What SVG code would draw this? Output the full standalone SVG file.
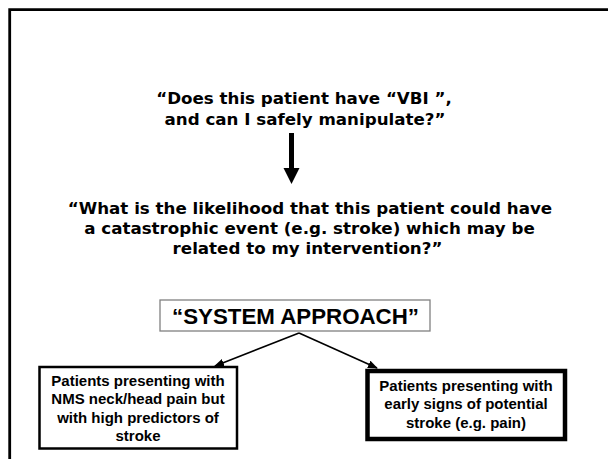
<svg xmlns="http://www.w3.org/2000/svg" width="608" height="459" viewBox="0 0 608 459">
<style>
.q{font-family:"DejaVu Sans",Verdana,sans-serif;font-weight:bold;font-size:16.7px;fill:#000;text-anchor:middle}
.b{font-family:"Liberation Sans",Arial,sans-serif;font-weight:bold;font-size:15px;fill:#000;text-anchor:middle}
.s{font-family:"Liberation Sans",Arial,sans-serif;font-weight:bold;font-size:22.3px;fill:#000;text-anchor:middle}
.c{stroke:#000;stroke-width:1.6;fill:none}
</style>
<defs>
<marker id="ah" markerUnits="userSpaceOnUse" markerWidth="10" markerHeight="8" refX="9" refY="4" orient="auto">
<path d="M0,0 L10,4 L0,8 Z" fill="#000"/>
</marker>
</defs>
<rect width="608" height="459" fill="#fff"/>
<path id="frame" d="M9.7 459 V9.7 H608" fill="none" stroke="#000" stroke-width="2.8"/>
<g id="question1">
<text class="q" x="304" y="103.5">“Does this patient have “VBI ”,</text>
<text class="q" x="305" y="124.5">and can I safely manipulate?”</text>
</g>
<g id="question2">
<text class="q" x="310" y="214">“What is the likelihood that this patient could have</text>
<text class="q" x="309.5" y="234">a catastrophic event (e.g. stroke) which may be</text>
<text class="q" x="307.5" y="254">related to my intervention?”</text>
</g>
<g id="system">
<rect x="160" y="300" width="270" height="31" fill="#fff" stroke="#808080" stroke-width="1.3"/>
<text class="s" x="295.5" y="323.5">“SYSTEM APPROACH”</text>
</g>
<g id="left-box">
<rect x="39.5" y="367" width="197.5" height="81.5" fill="#fff" stroke="#000" stroke-width="2.5"/>
<text class="b" x="138" y="385.5">Patients presenting with</text>
<text class="b" x="138" y="404">NMS neck/head pain but</text>
<text class="b" x="138" y="422.5">with high predictors of</text>
<text class="b" x="138" y="441">stroke</text>
</g>
<g id="right-box">
<rect x="367.5" y="371" width="197.5" height="68" fill="#fff" stroke="#000" stroke-width="4.5"/>
<text class="b" x="466" y="390.5">Patients presenting with</text>
<text class="b" x="466" y="409">early signs of potential</text>
<text class="b" x="466" y="427.5">stroke (e.g. pain)</text>
</g>
<g id="connectors">
<path d="M289 133 H294 V168 H299.5 L291.5 184 L283.5 168 H289 Z" fill="#000"/>
<line class="c" x1="299" y1="333" x2="215" y2="366" marker-end="url(#ah)"/>
<line class="c" x1="299" y1="333" x2="377" y2="368" marker-end="url(#ah)"/>
</g>
</svg>
